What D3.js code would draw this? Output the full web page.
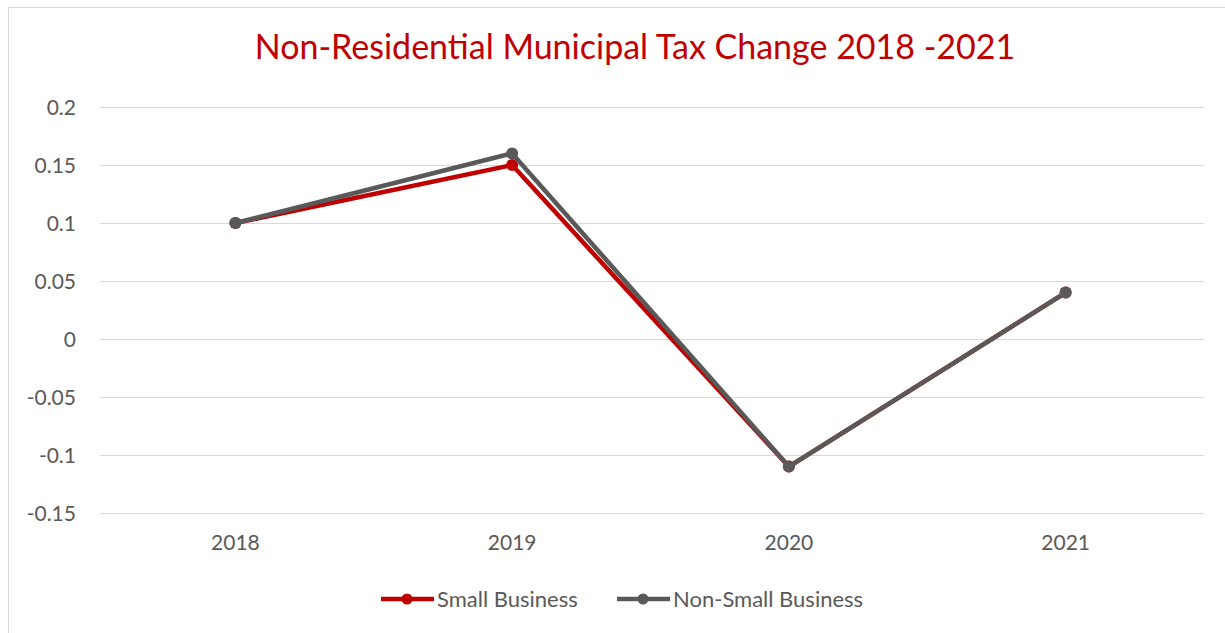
<!DOCTYPE html>
<html>
<head>
<meta charset="utf-8">
<script src="https://cdn.jsdelivr.net/npm/d3@7"></script>
<style>
  html, body { margin: 0; padding: 0; background: #fff; }
  svg { display: block; }
</style>
</head>
<body>
<svg id="chart" width="1225" height="633"></svg>
<script>
const categories = ["2018", "2019", "2020", "2021"];
const smallBusiness = [0.10, 0.15, -0.11, 0.04];
const nonSmallBusiness = [0.10, 0.16, -0.11, 0.04];
const yTicks = [-0.15, -0.1, -0.05, 0, 0.05, 0.1, 0.15, 0.2];
const seriesNames = ["Small Business", "Non-Small Business"];
const seriesColors = ["#C00000", "#595959"];
const titleText = "Non-Residential Municipal Tax Change 2018 -2021";

const svg = d3.select("#chart");
const font = "Lato, 'Open Sans', sans-serif";
const labelSize = 21;
const legendSize = 22;

// chart frame
svg.append("rect")
  .attr("x", 8.5).attr("y", 7.5)
  .attr("width", 1240).attr("height", 660)
  .attr("fill", "#fff").attr("stroke", "#d9d9d9").attr("stroke-width", 1);

const plot = { left: 97, right: 1204, top: 107, bottom: 513 };

const x = d3.scaleBand().domain(categories).range([plot.left, plot.right]);
const y = d3.scaleLinear().domain([-0.15, 0.2]).range([plot.bottom, plot.top]);
const cx = d => x(d) + x.bandwidth() / 2;

// horizontal gridlines
svg.append("g")
  .selectAll("line").data(yTicks).join("line")
  .attr("x1", plot.left + 3).attr("x2", plot.right)
  .attr("y1", d => Math.round(y(d)) + 0.5).attr("y2", d => Math.round(y(d)) + 0.5)
  .attr("stroke", "#d9d9d9").attr("stroke-width", 1);

// y axis labels (plain hyphen for negatives)
const yAxis = d3.axisLeft(y).tickValues(yTicks).tickSize(0).tickPadding(0)
  .tickFormat(d => String(+d.toFixed(2)));
svg.append("g")
  .attr("transform", `translate(76,0)`)
  .call(yAxis)
  .call(g => g.select(".domain").remove())
  .call(g => g.selectAll("text")
    .attr("fill", "#595959").attr("font-family", font).attr("font-size", labelSize)
    .attr("dy", "0.35em"));

// x axis labels
const xAxis = d3.axisBottom(x).tickSize(0).tickPadding(0);
svg.append("g")
  .attr("transform", `translate(0,535)`)
  .call(xAxis)
  .call(g => g.select(".domain").remove())
  .call(g => g.selectAll("text")
    .attr("fill", "#595959").attr("font-family", font).attr("font-size", labelSize));

// title
svg.append("text")
  .attr("x", 635).attr("y", 59)
  .attr("text-anchor", "middle")
  .attr("fill", "#C00000")
  .attr("font-family", font).attr("font-size", 34)
  .text(titleText);

// series lines and markers
const seriesData = [smallBusiness, nonSmallBusiness];
const line = d3.line().x((d, i) => cx(categories[i])).y(d => y(d));

seriesData.forEach((values, s) => {
  const g = svg.append("g");
  g.append("path")
    .datum(values)
    .attr("d", line)
    .attr("fill", "none")
    .attr("stroke", seriesColors[s])
    .attr("stroke-width", 4.5)
    .attr("stroke-linejoin", "round")
    .attr("stroke-linecap", "round");
  g.selectAll("circle").data(values).join("circle")
    .attr("cx", (d, i) => cx(categories[i]))
    .attr("cy", d => y(d))
    .attr("r", 6)
    .attr("fill", seriesColors[s]);
});

// legend
const legendItems = [
  { x: 381, name: seriesNames[0], color: seriesColors[0] },
  { x: 617, name: seriesNames[1], color: seriesColors[1] }
];
const legend = svg.append("g").attr("transform", "translate(0,599)");
legendItems.forEach(item => {
  legend.append("line")
    .attr("x1", item.x).attr("x2", item.x + 53)
    .attr("y1", 0).attr("y2", 0)
    .attr("stroke", item.color).attr("stroke-width", 4.5);
  legend.append("circle")
    .attr("cx", item.x + 26).attr("cy", 0).attr("r", 5.5)
    .attr("fill", item.color);
  legend.append("text")
    .attr("x", item.x + 56).attr("y", 0).attr("dy", "0.35em")
    .attr("fill", "#595959").attr("font-family", font).attr("font-size", legendSize)
    .text(item.name);
});
</script>
</body>
</html>
